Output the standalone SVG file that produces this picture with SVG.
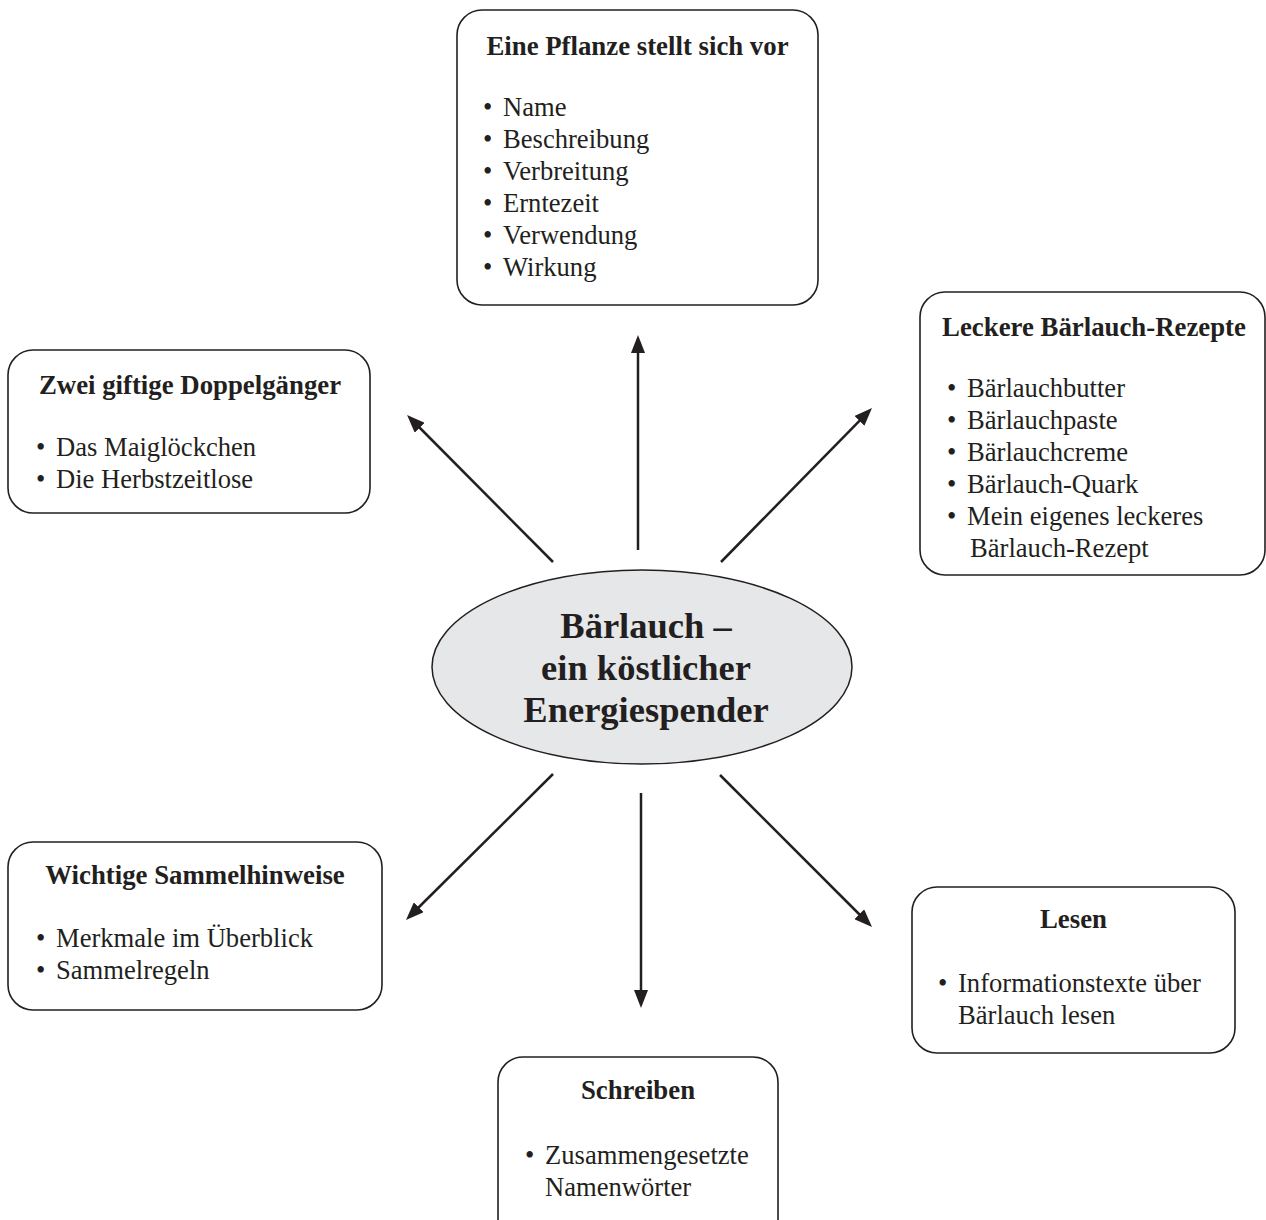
<svg xmlns="http://www.w3.org/2000/svg" width="1266" height="1220" viewBox="0 0 1266 1220">
<style>
.box{fill:#fff;stroke:#231f20;stroke-width:1.6}
.t{font-family:"Liberation Serif","Times New Roman",serif;font-size:26.6px;fill:#231f20}
.h{font-weight:bold;text-anchor:middle;font-size:26.8px}
.c{font-family:"Liberation Serif","Times New Roman",serif;font-size:36.5px;font-weight:bold;fill:#231f20;text-anchor:middle}
.arr{stroke:#231f20;stroke-width:2.5;fill:none;marker-end:url(#ah)}
</style>
<defs>
<marker id="ah" markerUnits="userSpaceOnUse" markerWidth="18" markerHeight="14" refX="6" refY="7" orient="auto" viewBox="0 0 18 14">
<path d="M0,0 L18,7 L0,14 z" fill="#231f20"/>
</marker>
</defs>
<rect width="1266" height="1220" fill="#fff"/>
<g id="connectors">
<line class="arr" x1="638" y1="550" x2="638" y2="347"/>
<line class="arr" x1="553" y1="562" x2="415.5" y2="423.5"/>
<line class="arr" x1="721" y1="562" x2="863.6" y2="416.6"/>
<line class="arr" x1="553" y1="774" x2="414.5" y2="911.5"/>
<line class="arr" x1="641" y1="793" x2="641" y2="996"/>
<line class="arr" x1="720" y1="775" x2="863.5" y2="918.5"/>
</g>
<g id="center">
<ellipse cx="642" cy="667" rx="210" ry="97" fill="#e6e7e8" stroke="#231f20" stroke-width="1.5"/>
<text class="c" x="646" y="638">Bärlauch –</text>
<text class="c" x="646" y="680">ein köstlicher</text>
<text class="c" x="646" y="722">Energiespender</text>
</g>
<g id="pflanze">
<rect class="box" x="457" y="10" width="361" height="295" rx="25"/>
<text class="t h" x="637.5" y="55">Eine Pflanze stellt sich vor</text>
<text class="t" x="483" y="116">•</text><text class="t" x="503" y="116">Name</text>
<text class="t" x="483" y="148">•</text><text class="t" x="503" y="148">Beschreibung</text>
<text class="t" x="483" y="180">•</text><text class="t" x="503" y="180">Verbreitung</text>
<text class="t" x="483" y="212">•</text><text class="t" x="503" y="212">Erntezeit</text>
<text class="t" x="483" y="244">•</text><text class="t" x="503" y="244">Verwendung</text>
<text class="t" x="483" y="276">•</text><text class="t" x="503" y="276">Wirkung</text>
</g>
<g id="rezepte">
<rect class="box" x="920" y="292" width="345" height="283" rx="25"/>
<text class="t h" x="1094" y="336">Leckere Bärlauch-Rezepte</text>
<text class="t" x="947" y="397">•</text><text class="t" x="967" y="397">Bärlauchbutter</text>
<text class="t" x="947" y="429">•</text><text class="t" x="967" y="429">Bärlauchpaste</text>
<text class="t" x="947" y="461">•</text><text class="t" x="967" y="461">Bärlauchcreme</text>
<text class="t" x="947" y="493">•</text><text class="t" x="967" y="493">Bärlauch-Quark</text>
<text class="t" x="947" y="525">•</text><text class="t" x="967" y="525">Mein eigenes leckeres</text>
<text class="t" x="970" y="557">Bärlauch-Rezept</text>
</g>
<g id="doppelgaenger">
<rect class="box" x="8" y="350" width="362" height="163" rx="25"/>
<text class="t h" x="190" y="394">Zwei giftige Doppelgänger</text>
<text class="t" x="36" y="456">•</text><text class="t" x="56" y="456">Das Maiglöckchen</text>
<text class="t" x="36" y="488">•</text><text class="t" x="56" y="488">Die Herbstzeitlose</text>
</g>
<g id="sammelhinweise">
<rect class="box" x="8" y="842" width="374" height="168" rx="25"/>
<text class="t h" x="195" y="884">Wichtige Sammelhinweise</text>
<text class="t" x="36" y="947">•</text><text class="t" x="56" y="947">Merkmale im Überblick</text>
<text class="t" x="36" y="979">•</text><text class="t" x="56" y="979">Sammelregeln</text>
</g>
<g id="lesen">
<rect class="box" x="912" y="887" width="323" height="166" rx="25"/>
<text class="t h" x="1073.5" y="928">Lesen</text>
<text class="t" x="938" y="992">•</text><text class="t" x="958" y="992">Informationstexte über</text>
<text class="t" x="958" y="1024">Bärlauch lesen</text>
</g>
<g id="schreiben">
<rect class="box" x="498" y="1057" width="280" height="200" rx="25"/>
<text class="t h" x="638" y="1099">Schreiben</text>
<text class="t" x="525" y="1164">•</text><text class="t" x="545" y="1164">Zusammengesetzte</text>
<text class="t" x="545" y="1196">Namenwörter</text>
</g>
</svg>
